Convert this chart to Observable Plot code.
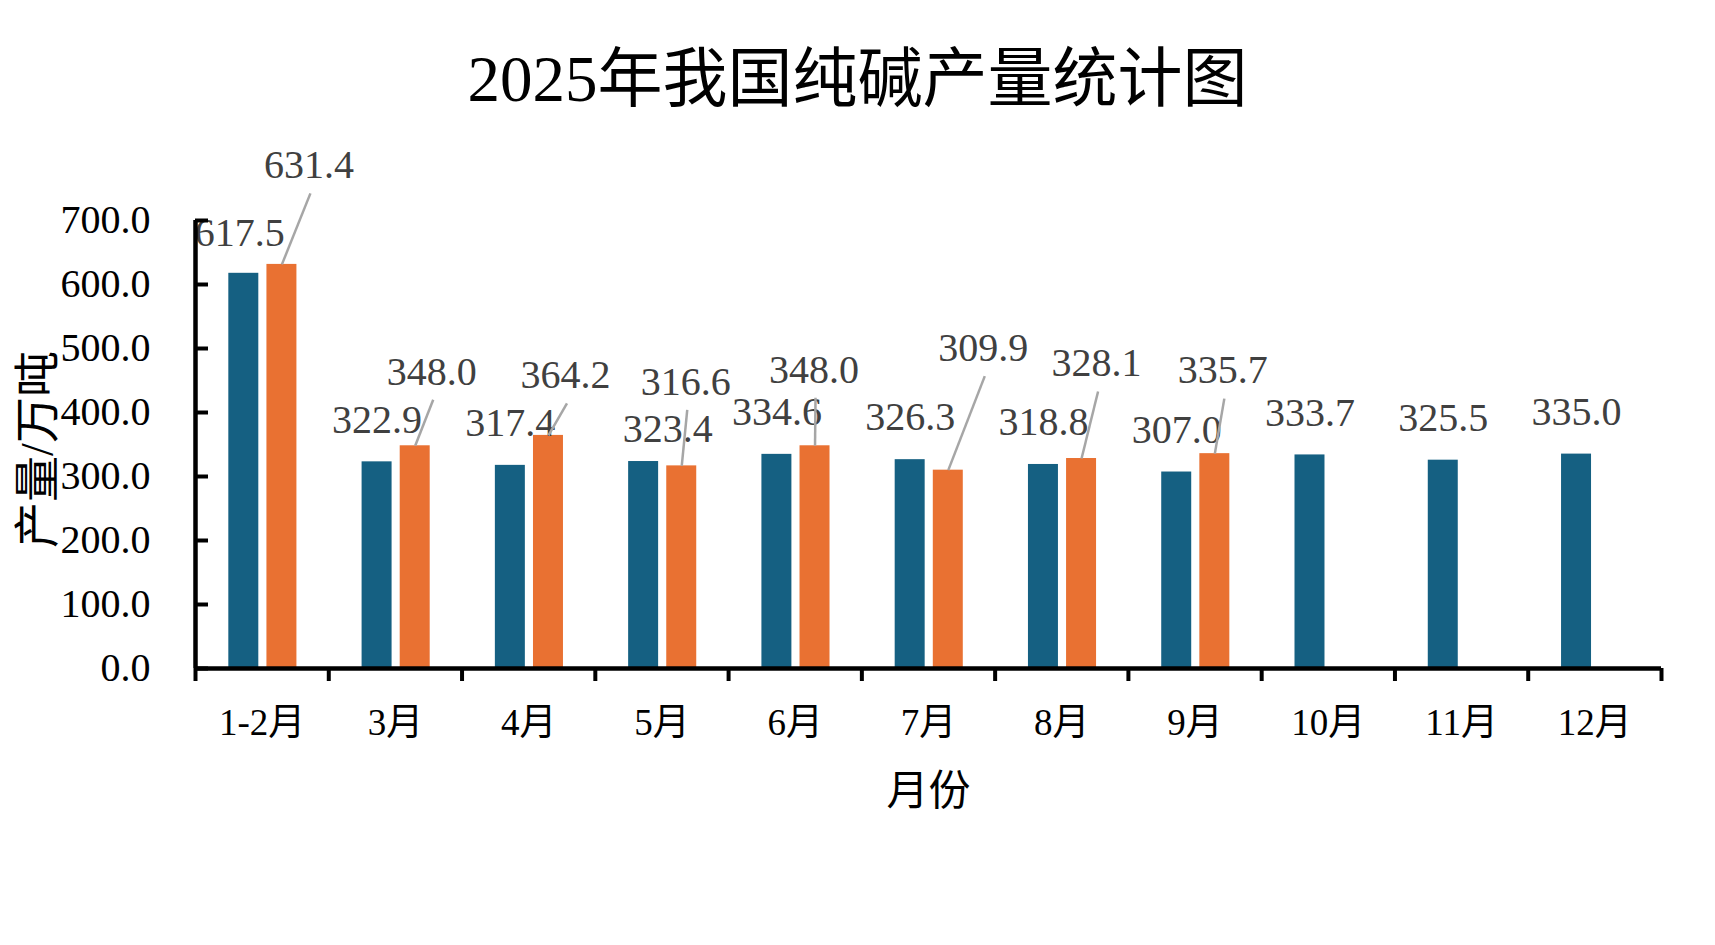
<!DOCTYPE html>
<html>
<head>
<meta charset="utf-8">
<script src="https://cdn.jsdelivr.net/npm/d3@7"></script>
<script src="https://cdn.jsdelivr.net/npm/@observablehq/plot@0.6"></script>
<style>
  body { margin: 0; background: #fff; }
  #title {
    height: 140px; box-sizing: border-box; padding-top: 40px;
    text-align: center; font-family: "Liberation Serif", "Noto Sans CJK SC", serif;
    font-size: 65px; line-height: 78px; color: #000; white-space: nowrap;
  }
  #chart svg { overflow: visible; }
</style>
</head>
<body>
<div id="title">2025年我国纯碱产量统计图</div>
<div id="chart"></div>
<script>
// ---- data ----
const months = ["1-2月", "3月", "4月", "5月", "6月", "7月", "8月", "9月", "10月", "11月", "12月"];
const series2024 = [617.5, 322.9, 317.4, 323.4, 334.6, 326.3, 318.8, 307.0, 333.7, 325.5, 335.0];
const series2025 = [631.4, 348.0, 364.2, 316.6, 348.0, 309.9, 328.1, 335.7];
const yTicks = [0, 100, 200, 300, 400, 500, 600, 700];
const xTitle = "月份";
const yTitle = "产量/万吨";

// manual data-label placement (pixels): [shift right, height of label centre above bar top]
const label2024Place = [[-4, 40], [0, 42], [0, 42], [24, 32], [0, 42], [0, 42], [0, 42], [0, 42], [0, 42], [0, 42], [0, 42]];
const label2025Place = [[27, 99], [16.5, 74], [17, 60], [4, 84], [-1, 76], [35, 122], [15, 95], [8, 83]];

// ---- layout ----
const W = 1715, H = 805;
const mL = 195, mR = 54, mT = 80, mB = 277;
const xDomain = [-0.5, months.length - 0.5];
const yDomain = [0, 700];
const pxX = (W - mL - mR) / (xDomain[1] - xDomain[0]);
const pxY = (H - mT - mB) / (yDomain[1] - yDomain[0]);

const blue = "#156082", orange = "#E97132";
const labelColor = "#404040", leaderColor = "#A6A6A6";
const font = '"Liberation Serif", "Noto Sans CJK SC", serif';

const offBlue = -0.1375, offOrange = 0.1485, halfBar = 0.1125;

const d2024 = series2024.map((v, i) => ({i, month: months[i], v, place: label2024Place[i]}));
const d2025 = series2025.map((v, i) => ({i, month: months[i], v, place: label2025Place[i]}));

const lx2025 = d => d.i + offOrange + d.place[0] / pxX;
const ly2025 = d => d.v + d.place[1] / pxY;

const boundaries = d3.range(months.length + 1).map(i => i - 0.5);

const chart = Plot.plot({
  width: W, height: H,
  marginLeft: mL, marginRight: mR, marginTop: mT, marginBottom: mB,
  x: {type: "linear", domain: xDomain, axis: null, label: null},
  y: {domain: yDomain, axis: null, label: null},
  style: {fontFamily: font, background: "#fff", color: "#000"},
  marks: [
    // bars
    Plot.rect(d2024, {x1: d => d.i + offBlue - halfBar, x2: d => d.i + offBlue + halfBar, y1: 0, y2: "v", fill: blue}),
    Plot.rect(d2025, {x1: d => d.i + offOrange - halfBar, x2: d => d.i + offOrange + halfBar, y1: 0, y2: "v", fill: orange}),
    // 2024 data labels
    Plot.text(d2024, {
      x: d => d.i + offBlue + d.place[0] / pxX,
      y: d => d.v + d.place[1] / pxY,
      text: d => d.v.toFixed(1),
      fontSize: 40, fill: labelColor, lineAnchor: "middle"
    }),
    // leader lines for 2025 labels
    Plot.link(d2025, {
      x1: d => d.i + offOrange, y1: "v",
      x2: d => lx2025(d) + 1.5 / pxX, y2: d => ly2025(d) - 28 / pxY,
      stroke: leaderColor, strokeWidth: 2.5
    }),
    // 2025 data labels
    Plot.text(d2025, {
      x: lx2025, y: ly2025,
      text: d => d.v.toFixed(1),
      fontSize: 40, fill: labelColor, lineAnchor: "middle"
    }),
    // y axis: labels, inward ticks, line
    Plot.axisY(yTicks, {tickSize: 0, tickPadding: 45, tickFormat: d => d.toFixed(1), fontSize: 40, fill: "#000", label: null}),
    Plot.ruleY(yTicks, {x1: xDomain[0], x2: xDomain[0] + 13 / pxX, stroke: "#000", strokeWidth: 4}),
    Plot.ruleX([xDomain[0]], {y1: yDomain[0], y2: yDomain[1], stroke: "#000", strokeWidth: 4.5}),
    // x axis: line, outward ticks at category boundaries, labels
    Plot.ruleY([0], {x1: xDomain[0], x2: xDomain[1], stroke: "#000", strokeWidth: 4.5}),
    Plot.ruleX(boundaries, {y1: 0, y2: -13 / pxY, stroke: "#000", strokeWidth: 4}),
    Plot.axisX(d3.range(months.length), {tickSize: 0, tickPadding: 40, tickFormat: i => months[i], fontSize: 37, fill: "#000", label: null}),
    // axis titles
    Plot.text([yTitle], {frameAnchor: "left", dx: -157, dy: 5, rotate: -90, fontSize: 46, fill: "#000", textAnchor: "middle", lineAnchor: "middle"}),
    Plot.text([xTitle], {frameAnchor: "bottom", dy: 123, fontSize: 42, fill: "#000", textAnchor: "middle", lineAnchor: "middle"})
  ]
});
document.getElementById("chart").appendChild(chart);
</script>
</body>
</html>
